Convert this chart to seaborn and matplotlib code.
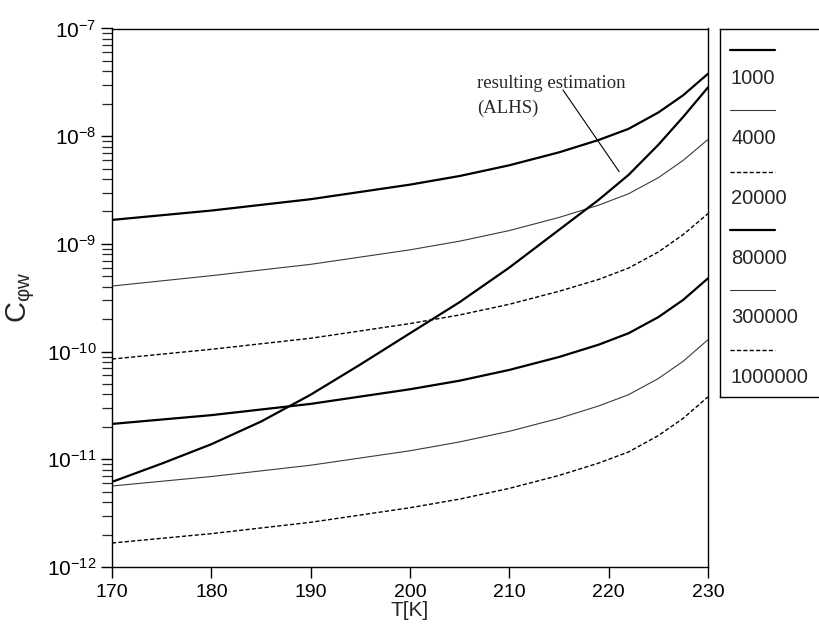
import numpy as np
import pandas as pd
import matplotlib
matplotlib.use("Agg")
import matplotlib.pyplot as plt
import matplotlib.ticker as mticker
import seaborn as sns

# ---------------- data ----------------
T = [170, 180, 190, 200, 205, 210, 215, 219, 222, 225, 227.5, 230]

c_1000 = [1.67e-9, 2.04e-9, 2.60e-9, 3.55e-9, 4.27e-9, 5.37e-9, 7.08e-9, 9.23e-9,
          1.17e-8, 1.66e-8, 2.40e-8, 3.80e-8]
c_4000 = [4.06e-10, 5.07e-10, 6.46e-10, 8.81e-10, 1.06e-9, 1.33e-9, 1.76e-9, 2.29e-9,
          2.92e-9, 4.12e-9, 5.96e-9, 9.33e-9]
c_20000 = [8.53e-11, 1.05e-10, 1.33e-10, 1.82e-10, 2.19e-10, 2.75e-10, 3.63e-10, 4.68e-10,
           5.96e-10, 8.41e-10, 1.22e-9, 1.91e-9]
c_80000 = [2.13e-11, 2.57e-11, 3.27e-11, 4.47e-11, 5.37e-11, 6.76e-11, 8.91e-11, 1.16e-10,
           1.48e-10, 2.09e-10, 3.02e-10, 4.79e-10]
c_300000 = [5.65e-12, 6.92e-12, 8.81e-12, 1.20e-11, 1.45e-11, 1.82e-11, 2.40e-11, 3.13e-11,
            3.98e-11, 5.62e-11, 8.13e-11, 1.29e-10]
c_1000000 = [1.67e-12, 2.04e-12, 2.60e-12, 3.55e-12, 4.27e-12, 5.37e-12, 7.08e-12, 9.23e-12,
             1.17e-11, 1.66e-11, 2.40e-11, 3.80e-11]

T_alhs = [170, 175, 180, 185, 190, 195, 200, 205, 210, 215, 219, 222, 225, 227.5, 230]
c_alhs = [6.17e-12, 9.12e-12, 1.38e-11, 2.24e-11, 3.98e-11, 7.59e-11, 1.48e-10, 2.88e-10,
          6.03e-10, 1.35e-9, 2.57e-9, 4.37e-9, 8.32e-9, 1.51e-8, 2.84e-8]

series_labels = ["1000", "4000", "20000", "80000", "300000", "1000000"]
series_values = [c_1000, c_4000, c_20000, c_80000, c_300000, c_1000000]

x_ticks = [170, 180, 190, 200, 210, 220, 230]
x_label = "T[K]"
y_label = r"C$_{\mathrm{φw}}$"
note_text = ["resulting estimation", "(ALHS)"]

# ---------------- styles ----------------
thick = dict(color="black", lw=1.6, ls="-")
thin = dict(color="#3a3a3a", lw=0.8, ls="-")
dash = dict(color="black", lw=1.0, ls=(0, (3, 1.6)))
styles = [thick, thin, dash, thick, thin, dash]

sns.set_style("ticks")
plt.rcParams["font.family"] = ["Liberation Sans", "DejaVu Sans"]
plt.rcParams["mathtext.fontset"] = "custom"
plt.rcParams["mathtext.rm"] = "Liberation Sans"
plt.rcParams["mathtext.it"] = "Liberation Sans:italic"
plt.rcParams["mathtext.bf"] = "Liberation Sans:bold"

W, H = 819, 627
fig = plt.figure(figsize=(W / 100, H / 100), dpi=100)
fig.patch.set_facecolor("white")

L, R, TOP, BOT = 112, 708, 28.5, 567
ax = fig.add_axes([L / W, (H - BOT) / H, (R - L) / W, (BOT - TOP) / H])

rows = []
for lab, vals in zip(series_labels, series_values):
    for t, v in zip(T, vals):
        rows.append({"T": t, "C": v, "N": lab})
df = pd.DataFrame(rows)

for lab, st in zip(series_labels, styles):
    sub = df[df["N"] == lab]
    sns.lineplot(data=sub, x="T", y="C", ax=ax, color=st["color"], lw=st["lw"],
                 linestyle=st["ls"], legend=False, sort=True)

df_alhs = pd.DataFrame({"T": T_alhs, "C": c_alhs})
sns.lineplot(data=df_alhs, x="T", y="C", ax=ax, color="black", lw=1.6, legend=False)

ax.set_yscale("log")
ax.set_xlim(170, 230)
ax.set_ylim(1e-12, 1e-7)
ax.set_xticks(x_ticks)
ax.yaxis.set_major_locator(mticker.LogLocator(base=10, numticks=10))
ax.yaxis.set_minor_locator(mticker.LogLocator(base=10, subs=np.arange(2, 10), numticks=100))
ax.yaxis.set_minor_formatter(mticker.NullFormatter())
ax.tick_params(axis="x", which="major", direction="out", length=8, width=1,
               labelsize=14, pad=4, colors="black")
ax.tick_params(axis="y", which="major", direction="out", length=8, width=1,
               labelsize=15, pad=3, colors="black")
ax.tick_params(axis="y", which="minor", direction="out", length=7, width=0.9)
for s in ax.spines.values():
    s.set_visible(True)
    s.set_linewidth(1.0)
    s.set_color("black")

ax.set_xlabel(x_label, fontsize=15, labelpad=0)
ax.set_ylabel(y_label, fontsize=21)
ax.yaxis.set_label_coords(-0.126, 0.5)

# annotation
ax.text(206.76, 10 ** -7.55, note_text[0], family="Liberation Serif", fontsize=13.5,
        ha="left", va="baseline")
ax.text(206.76, 10 ** -7.785, note_text[1], family="Liberation Serif", fontsize=13.5,
        ha="left", va="baseline")
ax.annotate("", xy=(221.06, 10 ** -8.33), xytext=(215.4, 10 ** -7.571),
            arrowprops=dict(arrowstyle="-", lw=0.8, color="black", shrinkA=0, shrinkB=0))

# legend box (samples above labels, as in the reference)
LG_L, LG_T, LG_B = 720, 28.5, 397
lax = fig.add_axes([LG_L / W, (H - LG_B) / H, 130 / W, (LG_B - LG_T) / H])
lax.set_xlim(0, 130)
lax.set_ylim(LG_B - LG_T, 0)
lax.set_xticks([])
lax.set_yticks([])
for s in lax.spines.values():
    s.set_linewidth(1.0)
    s.set_color("black")
line_y = [21.5, 81.5, 143.5, 201.5, 261.5, 321.5]
text_y = [49.5, 109.5, 169.5, 229.5, 289.5, 349.5]
for lab, st, ly, ty in zip(series_labels, styles, line_y, text_y):
    lax.plot([10, 55], [ly, ly], color=st["color"], lw=st["lw"], linestyle=st["ls"])
    lax.text(11, ty, lab, fontsize=14.5, ha="left", va="center")

fig.savefig("out.png", dpi=100, facecolor="white")
